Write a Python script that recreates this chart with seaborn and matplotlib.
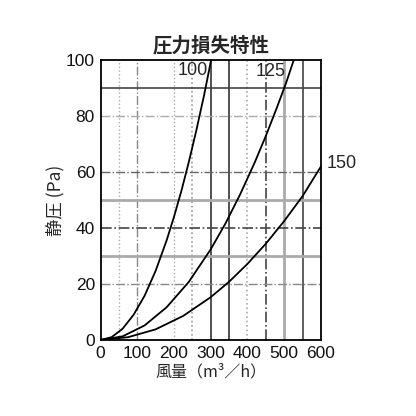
import numpy as np
import pandas as pd
import matplotlib
matplotlib.use("Agg")
import matplotlib.pyplot as plt
import seaborn as sns

# Values
flow_100 = [0, 30, 60, 90, 120, 150, 180, 200, 220, 240, 260, 282, 301]
pa_100 = [0, 1.0, 4.0, 9.0, 15.8, 24.7, 35.6, 44, 53.2, 63.4, 74.4, 87.5, 100]

flow_125 = [0, 60, 120, 180, 240, 300, 340, 380, 420, 450, 480, 505, 526]
pa_125 = [0, 1.3, 5.2, 11.7, 20.7, 32.4, 41.6, 52, 63.5, 72.9, 83, 91.8, 100]

flow_150 = [0, 75, 150, 225, 300, 350, 400, 450, 500, 550, 600]
pa_150 = [0, 1.0, 3.8, 8.6, 15.3, 20.8, 27.2, 34.4, 42.5, 51.4, 62]

curve_names = ["100", "125", "150"]
x_ticks = [0, 100, 200, 300, 400, 500, 600]
y_ticks = [0, 20, 40, 60, 80, 100]

df = pd.concat([
    pd.DataFrame({"flow": flow_100, "pa": pa_100, "size": "100"}),
    pd.DataFrame({"flow": flow_125, "pa": pa_125, "size": "125"}),
    pd.DataFrame({"flow": flow_150, "pa": pa_150, "size": "150"}),
])

sns.set_style("white")
plt.rcParams['font.family'] = ['Noto Sans CJK JP', 'DejaVu Sans']

fig = plt.figure(figsize=(4.16, 4.16), dpi=100)
ax = fig.add_axes([0.2416, 0.1827, 0.5300, 0.6731])

# Scanned-looking grid: mix of solid, dash-dot and dotted lines
v_grid = [(50, '#aaaaaa', ':', 1.0), (100, '#888888', '-.', 1.0), (200, '#aaaaaa', ':', 1.0),
          (250, '#999999', ':', 1.2), (300, '#333333', '-', 1.2), (350, '#333333', '-', 1.2),
          (400, '#aaaaaa', ':', 1.2), (450, '#444444', '-.', 1.2), (500, '#aaaaaa', '-', 2.0),
          (550, '#444444', '-', 1.2)]
h_grid = [(20, '#888888', '-.', 1.0), (30, '#aaaaaa', '-', 2.0), (40, '#444444', '-.', 1.2),
          (50, '#aaaaaa', '-', 2.0), (60, '#666666', '-.', 1.0), (80, '#aaaaaa', '-.', 1.0),
          (90, '#444444', '-', 1.2)]
for x, c, ls, lw in v_grid:
    ax.axvline(x, color=c, ls=ls, lw=lw, zorder=1)
for y, c, ls, lw in h_grid:
    ax.axhline(y, color=c, ls=ls, lw=lw, zorder=1)

sns.lineplot(data=df, x="flow", y="pa", units="size", estimator=None,
             color="black", lw=1.3, sort=False, ax=ax, zorder=3)

num_font = ['Liberation Sans', 'DejaVu Sans']

ax.set_xlim(0, 600)
ax.set_ylim(0, 100)
ax.set_xticks(x_ticks)
ax.set_yticks(y_ticks)
ax.tick_params(length=0, labelsize=12.5, pad=4, labelcolor="#111111")
for lab in ax.get_xticklabels() + ax.get_yticklabels():
    lab.set_family(num_font)
for s in ax.spines.values():
    s.set_color("black")
    s.set_linewidth(1.3)

ax.text(293, 96.4, curve_names[0], ha="right", va="center", fontsize=13, family=num_font)
ax.text(503, 96.0, curve_names[1], ha="right", va="center", fontsize=13, family=num_font)
ax.text(614, 63.0, curve_names[2], ha="left", va="center", fontsize=13,
        family=num_font, clip_on=False)

ax.set_title("圧力損失特性", fontsize=14, fontweight="bold", pad=6)
ax.set_xlabel("風量（m³／h）", fontsize=11.5, labelpad=2)
ax.set_ylabel("静圧 (Pa)", fontsize=12.5, labelpad=1)

fig.savefig("out.png", dpi=100, facecolor="white")
